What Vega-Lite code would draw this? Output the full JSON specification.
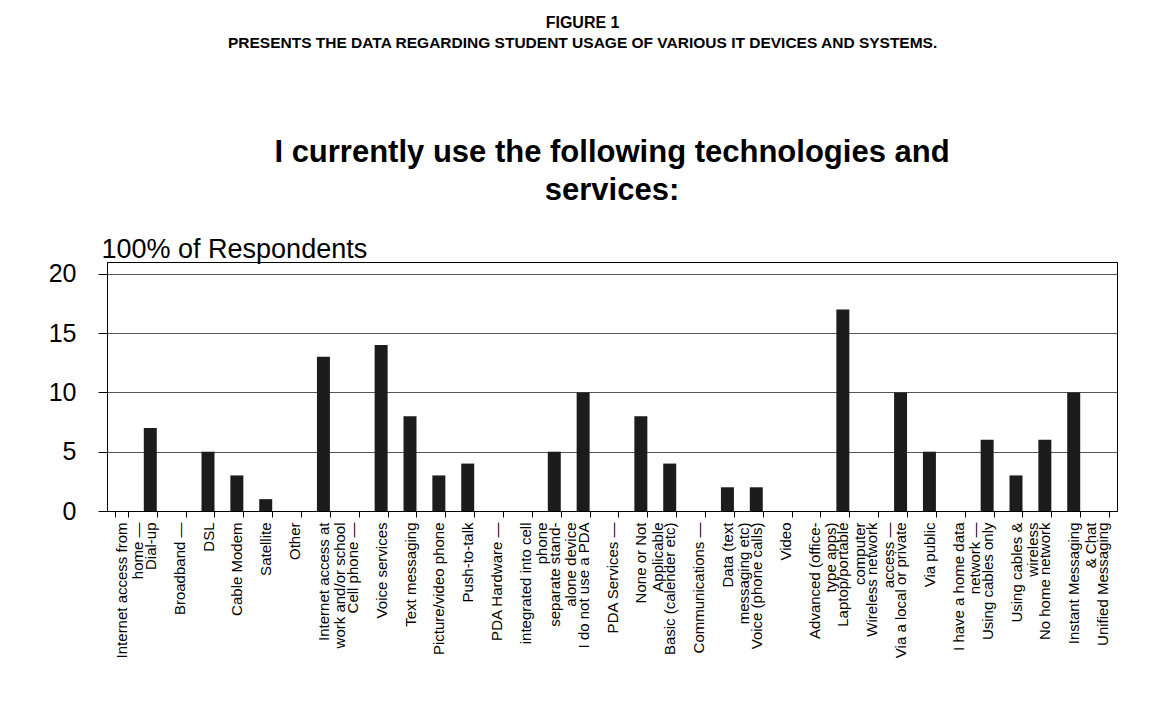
{
  "$schema": "https://vega.github.io/schema/vega-lite/v6.json",
  "background": "white",
  "padding": {"left": 47, "top": 15, "right": 20, "bottom": 10},
  "title": {
    "text": "FIGURE 1",
    "subtitle": "PRESENTS THE DATA REGARDING STUDENT USAGE OF VARIOUS IT DEVICES AND SYSTEMS.",
    "font": "Liberation Sans",
    "fontSize": 16,
    "fontWeight": "bold",
    "color": "black",
    "subtitleFont": "Liberation Sans",
    "subtitleFontSize": 15.5,
    "subtitleFontWeight": "bold",
    "subtitleColor": "black",
    "subtitlePadding": 5,
    "anchor": "middle",
    "offset": 85
  },
  "vconcat": [
    {
      "width": 1010,
      "height": 249,
      "title": {
        "text": ["I currently use the following technologies and", "services:"],
        "font": "Liberation Sans",
        "fontSize": 31,
        "fontWeight": "bold",
        "color": "black",
        "lineHeight": 38,
        "anchor": "middle",
        "offset": 28
      },
      "data": {
        "values": [
          {"label": "Internet access from|home —", "value": 0},
          {"label": "Dial-up", "value": 7},
          {"label": "Broadband —", "value": 0},
          {"label": "DSL", "value": 5},
          {"label": "Cable Modem", "value": 3},
          {"label": "Satellite", "value": 1},
          {"label": "Other", "value": 0},
          {"label": "Internet access at|work and/or school", "value": 13},
          {"label": "Cell phone —", "value": 0},
          {"label": "Voice services", "value": 14},
          {"label": "Text messaging", "value": 8},
          {"label": "Picture/video phone", "value": 3},
          {"label": "Push-to-talk", "value": 4},
          {"label": "PDA Hardware —", "value": 0},
          {"label": "integrated into cell|phone", "value": 0},
          {"label": "separate stand-|alone device", "value": 5},
          {"label": "I do not use a PDA", "value": 10},
          {"label": "PDA Services —", "value": 0},
          {"label": "None or Not|Applicable", "value": 8},
          {"label": "Basic (calender etc)", "value": 4},
          {"label": "Communications —", "value": 0},
          {"label": "Data (text|messaging etc)", "value": 2},
          {"label": "Voice (phone calls)", "value": 2},
          {"label": "Video", "value": 0},
          {"label": "Advanced (office-|type apps)", "value": 0},
          {"label": "Laptop/portable|computer", "value": 17},
          {"label": "Wireless network|access —", "value": 0},
          {"label": "Via a local or private", "value": 10},
          {"label": "Via public", "value": 5},
          {"label": "I have a home data|network —", "value": 0},
          {"label": "Using cables only", "value": 6},
          {"label": "Using cables &|wireless", "value": 3},
          {"label": "No home network", "value": 6},
          {"label": "Instant Messaging|& Chat", "value": 10},
          {"label": "Unified Messaging", "value": 0}
        ]
      },
      "mark": {"type": "bar", "color": "#1c1c1c"},
      "encoding": {
        "x": {
          "field": "label",
          "type": "nominal",
          "sort": null,
          "scale": {"paddingInner": 0.55, "paddingOuter": 0.275},
          "axis": {
            "title": null,
            "labelExpr": "split(datum.label, '|')",
            "labelAngle": -90,
            "labelAlign": "right",
            "labelBaseline": "middle",
            "labelFont": "Liberation Sans",
            "labelFontSize": 15,
            "labelLineHeight": 16.5,
            "labelColor": "black",
            "labelPadding": 5,
            "labelOverlap": false,
            "labelBound": false,
            "labelLimit": 300,
            "tickBand": "extent",
            "tickSize": 6,
            "tickColor": "black",
            "domainColor": "black",
            "grid": false
          }
        },
        "y": {
          "field": "value",
          "type": "quantitative",
          "scale": {"domain": [0, 21], "nice": false},
          "axis": {
            "values": [0, 5, 10, 15, 20],
            "title": "100% of Respondents",
            "titleAngle": 0,
            "titleAlign": "left",
            "titleBaseline": "alphabetic",
            "titleX": -6,
            "titleY": -5,
            "titleFont": "Liberation Sans",
            "titleFontSize": 27,
            "titleFontWeight": "normal",
            "titleColor": "black",
            "labelFont": "Liberation Sans",
            "labelFontSize": 25,
            "labelColor": "black",
            "labelPadding": 22,
            "tickSize": 9,
            "tickColor": "black",
            "domainColor": "black",
            "grid": true,
            "gridColor": "#555555",
            "gridWidth": 1
          }
        }
      }
    }
  ],
  "config": {
    "view": {"stroke": "black", "strokeWidth": 1}
  }
}
